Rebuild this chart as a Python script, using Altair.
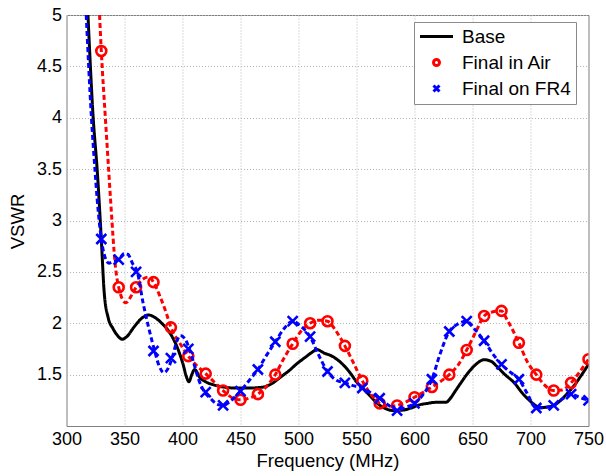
import altair as alt
import pandas as pd

# Series names, colours and legend/marker shapes
SERIES = ["Base", "Final in Air", "Final on FR4"]
COLORS = ["#000000", "#ff0000", "#0000ff"]
SHAPES = ["M-5.5,0L5.5,0", "circle", "M-1,-1L1,1M1,-1L-1,1"]

# Base antenna: measured VSWR curve
base_f = [318.5, 323, 326.4, 330, 332.5, 336, 340, 344, 348, 352, 358, 364, 371,
          377, 383, 387, 392, 396, 400, 404, 405.5, 408, 410.5, 415, 420, 427,
          435, 445, 458, 470, 478, 485, 492, 499, 506, 512, 516, 519, 522, 527,
          533, 539, 545, 550, 556, 562, 568, 574, 582, 590, 597, 604, 611, 618,
          627, 631, 634, 640, 645, 652, 660, 666, 671, 678, 686, 693, 700, 705,
          709, 715, 720, 726, 732, 738, 743, 750]
base_v = [5.0, 4.0, 3.5, 2.82, 2.3, 2.05, 1.95, 1.88, 1.845, 1.87, 1.96, 2.04,
          2.08, 2.05, 1.99, 1.94, 1.85, 1.75, 1.62, 1.46, 1.43, 1.50, 1.55, 1.47,
          1.43, 1.40, 1.38, 1.37, 1.37, 1.38, 1.42, 1.48, 1.54, 1.61, 1.67, 1.72,
          1.745, 1.73, 1.71, 1.69, 1.65, 1.59, 1.51, 1.43, 1.36, 1.29, 1.22,
          1.175, 1.15, 1.155, 1.175, 1.205, 1.22, 1.23, 1.23, 1.27, 1.32, 1.42,
          1.50, 1.59, 1.645, 1.63, 1.58, 1.50, 1.42, 1.32, 1.24, 1.195, 1.18,
          1.185, 1.20, 1.25, 1.32, 1.40, 1.48, 1.60]

# Final antenna in air: curve and sampled markers
air_f = [328.5, 330, 333.5, 336.3, 338, 342.2, 345, 351, 356, 360, 366, 371, 375,
         381, 386, 390, 398, 405, 413, 420, 428, 435, 442, 450, 457, 465, 472,
         480, 487, 495, 502, 510, 517, 525, 532, 540, 548, 555, 563, 570, 578,
         585, 592, 600, 608, 615, 622, 630, 638, 645, 653, 660, 667, 675, 680,
         690, 697, 705, 712, 720, 727, 735, 742, 750]
air_v = [5.0, 4.65, 4.0, 3.5, 3.2, 2.55, 2.35, 2.2, 2.27, 2.35, 2.43, 2.45, 2.40,
         2.25, 2.1, 1.96, 1.8, 1.68, 1.58, 1.51, 1.42, 1.345, 1.28, 1.255, 1.27,
         1.31, 1.38, 1.50, 1.65, 1.80, 1.92, 2.0, 2.03, 2.02, 1.93, 1.78, 1.60,
         1.44, 1.30, 1.22, 1.19, 1.20, 1.23, 1.28, 1.33, 1.38, 1.43, 1.50, 1.60,
         1.74, 1.92, 2.07, 2.11, 2.12, 2.03, 1.81, 1.63, 1.50, 1.40, 1.345, 1.35,
         1.42, 1.52, 1.65]
air_mk_f = [330, 345, 360, 375, 390, 405, 420, 435, 450, 465, 480, 495, 510, 525,
            540, 555, 570, 585, 600, 615, 630, 645, 660, 675, 690, 705, 720, 735, 750]
air_mk_v = [4.65, 2.35, 2.35, 2.40, 1.96, 1.68, 1.51, 1.345, 1.255, 1.31, 1.50,
            1.80, 2.00, 2.02, 1.78, 1.44, 1.22, 1.20, 1.28, 1.38, 1.50, 1.74, 2.07,
            2.12, 1.81, 1.50, 1.345, 1.42, 1.65]

# Final antenna on FR4: curve and sampled markers
fr4_f = [317, 321.5, 324.5, 326.5, 330, 333, 336.5, 340, 345, 350, 353, 357, 361,
         366, 371, 376, 380, 384, 388, 391, 395, 398, 402, 406, 410, 414, 419,
         424, 430, 435, 441, 450, 458, 465, 472, 480, 487, 495, 502, 510, 517,
         525, 532, 540, 548, 555, 563, 570, 578, 585, 592, 600, 607, 615, 622,
         630, 637, 645, 652, 660, 667, 675, 682, 690, 697, 705, 712, 720, 727,
         735, 742, 750]
fr4_v = [5.0, 4.0, 3.5, 3.2, 2.82, 2.65, 2.585, 2.6, 2.62, 2.68, 2.67, 2.58, 2.50,
         2.2, 1.95, 1.73, 1.58, 1.52, 1.57, 1.66, 1.82, 1.88, 1.85, 1.75, 1.60,
         1.45, 1.33, 1.27, 1.21, 1.20, 1.24, 1.34, 1.45, 1.55, 1.68, 1.82, 1.94,
         2.02, 1.97, 1.87, 1.70, 1.53, 1.45, 1.42, 1.39, 1.37, 1.32, 1.27, 1.20,
         1.15, 1.18, 1.22, 1.30, 1.455, 1.70, 1.92, 1.99, 2.02, 1.94, 1.83, 1.71,
         1.60, 1.53, 1.455, 1.32, 1.175, 1.18, 1.20, 1.26, 1.31, 1.28, 1.25]
fr4_mk_f = [330, 345, 360, 375, 390, 405, 420, 435, 450, 465, 480, 495, 510, 525,
            540, 555, 570, 585, 600, 615, 630, 645, 660, 675, 690, 705, 720, 735, 750]
fr4_mk_v = [2.82, 2.62, 2.50, 1.73, 1.66, 1.75, 1.33, 1.20, 1.34, 1.55, 1.82, 2.02,
            1.87, 1.53, 1.42, 1.37, 1.27, 1.15, 1.22, 1.455, 1.92, 2.02, 1.83, 1.60,
            1.455, 1.175, 1.20, 1.31, 1.25]

x_ticks = [300, 350, 400, 450, 500, 550, 600, 650, 700, 750]
y_ticks = [1.5, 2, 2.5, 3, 3.5, 4, 4.5, 5]


def frame(name, f, v):
    return pd.DataFrame({"series": name, "freq": f, "vswr": v})


base_df = frame("Base", base_f, base_v)
air_df = frame("Final in Air", air_f, air_v)
fr4_df = frame("Final on FR4", fr4_f, fr4_v)
air_mk = frame("Final in Air", air_mk_f, air_mk_v)
fr4_mk = frame("Final on FR4", fr4_mk_f, fr4_mk_v)

FONT = "Liberation Sans"

x_enc = alt.X("freq:Q", title="Frequency (MHz)",
              scale=alt.Scale(domain=[300, 750], nice=False, zero=False),
              axis=alt.Axis(values=x_ticks, format="d", labelFontSize=18,
                            titleFontSize=18.5, labelPadding=4,
                            labelFlush=False, labelOverlap=False,
                            titleX=261, titleY=40, titleBaseline="alphabetic",
                            titleAlign="center"))
y_enc = alt.Y("vswr:Q", title="VSWR",
              scale=alt.Scale(domain=[1, 5], nice=False, zero=False),
              axis=alt.Axis(values=y_ticks, format=".1~f", labelFontSize=18,
                            titleFontSize=18.5, labelPadding=5,
                            labelFlush=False, labelOverlap=False,
                            titleX=-43, titleY=206,
                            titleBaseline="alphabetic", titleAlign="center"))

legend = alt.Legend(title=None, orient="none", legendX=347.5, legendY=7,
                    labelFontSize=19, labelFont=FONT, padding=5,
                    rowPadding=6, symbolSize=36, symbolStrokeWidth=3,
                    symbolOffset=8, labelOffset=16,
                    fillColor="white", strokeColor="#8a8a8a")
color_enc = alt.Color("series:N", scale=alt.Scale(domain=SERIES, range=COLORS),
                      legend=legend)
shape_enc = alt.Shape("series:N", scale=alt.Scale(domain=SERIES, range=SHAPES),
                      legend=legend)


def curve(df, color, dash):
    return alt.Chart(df).mark_line(
        strokeWidth=3, clip=True, interpolate="monotone", strokeDash=dash,
        color=color,
    ).encode(x=x_enc, y=y_enc)


def markers(df):
    return alt.Chart(df).mark_point(
        filled=False, size=100, strokeWidth=2.6, clip=True, opacity=1
    ).encode(x=x_enc, y=y_enc, color=color_enc, shape=shape_enc)


chart = alt.layer(
    curve(base_df, COLORS[0], [1, 0]),
    curve(air_df, COLORS[1], [5, 3]),
    markers(air_mk),
    curve(fr4_df, COLORS[2], [5, 3]),
    markers(fr4_mk),
).properties(
    width=522, height=411,
    autosize=alt.AutoSizeParams(type="none"),
    padding={"left": 66.5, "top": 15, "right": 17.5, "bottom": 50},
).configure(
    font=FONT,
).configure_view(
    stroke="#808080", strokeWidth=1,
).configure_axis(
    domain=False, ticks=False, grid=True, gridColor="#b4b4b4",
    gridDash=[1, 2], gridWidth=1, labelColor="#000000", titleColor="#000000",
    labelFont=FONT, titleFont=FONT, titleFontWeight="normal",
)

chart.save("out.html", embed_options={"renderer": "svg", "actions": False})
